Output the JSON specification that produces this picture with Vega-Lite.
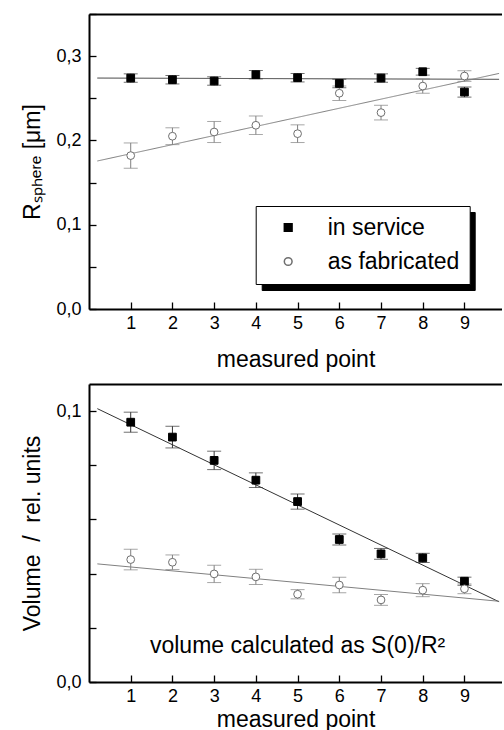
{
  "$schema": "https://vega.github.io/schema/vega-lite/v6.json",
  "background": "white",
  "padding": {"left": 21, "top": 13, "right": 0, "bottom": 0},
  "spacing": 13,
  "resolve": {"scale": {"fill": "independent", "stroke": "independent", "shape": "independent", "color": "independent", "strokeDash": "independent"},
              "legend": {"fill": "independent", "stroke": "independent", "shape": "independent", "color": "independent", "strokeDash": "independent"}},
  "config": {
    "font": "Liberation Sans",
    "view": {"stroke": null},
    "axis": {
      "grid": false, "domainColor": "black", "domainWidth": 2, "tickColor": "black", "tickWidth": 1.3, "tickSize": -7,
      "labelColor": "black", "titleColor": "black", "labelFont": "Liberation Sans", "titleFont": "Liberation Sans",
      "labelFontSize": 18, "titleFontSize": 23, "titleFontWeight": "normal"
    }
  },
  "datasets": {
    "r": [
      {"x": 1, "y": 0.274, "err": 0.005, "series": "in service"},
      {"x": 2, "y": 0.272, "err": 0.005, "series": "in service"},
      {"x": 3, "y": 0.2705, "err": 0.005, "series": "in service"},
      {"x": 4, "y": 0.278, "err": 0.005, "series": "in service"},
      {"x": 5, "y": 0.2744, "err": 0.005, "series": "in service"},
      {"x": 6, "y": 0.2676, "err": 0.005, "series": "in service"},
      {"x": 7, "y": 0.274, "err": 0.005, "series": "in service"},
      {"x": 8, "y": 0.2815, "err": 0.004, "series": "in service"},
      {"x": 9, "y": 0.2574, "err": 0.006, "series": "in service"},
      {"x": 1, "y": 0.182, "err": 0.015, "series": "as fabricated"},
      {"x": 2, "y": 0.205, "err": 0.01, "series": "as fabricated"},
      {"x": 3, "y": 0.21, "err": 0.0125, "series": "as fabricated"},
      {"x": 4, "y": 0.218, "err": 0.011, "series": "as fabricated"},
      {"x": 5, "y": 0.208, "err": 0.0105, "series": "as fabricated"},
      {"x": 6, "y": 0.256, "err": 0.0085, "series": "as fabricated"},
      {"x": 7, "y": 0.233, "err": 0.0087, "series": "as fabricated"},
      {"x": 8, "y": 0.2645, "err": 0.0085, "series": "as fabricated"},
      {"x": 9, "y": 0.2764, "err": 0.0063, "series": "as fabricated"}
    ],
    "rfit": [
      {"x": 0.2, "y": 0.274, "fit": "in service"},
      {"x": 9.83, "y": 0.2725, "fit": "in service"},
      {"x": 0.2, "y": 0.1756, "fit": "as fabricated"},
      {"x": 9.83, "y": 0.2795, "fit": "as fabricated"}
    ],
    "v": [
      {"x": 1, "y": 0.0959, "err": 0.0037, "series": "in service"},
      {"x": 2, "y": 0.0904, "err": 0.004, "series": "in service"},
      {"x": 3, "y": 0.0818, "err": 0.0034, "series": "in service"},
      {"x": 4, "y": 0.0745, "err": 0.0027, "series": "in service"},
      {"x": 5, "y": 0.0666, "err": 0.0028, "series": "in service"},
      {"x": 6, "y": 0.0526, "err": 0.002, "series": "in service"},
      {"x": 7, "y": 0.0473, "err": 0.002, "series": "in service"},
      {"x": 8, "y": 0.0458, "err": 0.0017, "series": "in service"},
      {"x": 9, "y": 0.0372, "err": 0.0015, "series": "in service"},
      {"x": 1, "y": 0.0452, "err": 0.0038, "series": "as fabricated"},
      {"x": 2, "y": 0.0442, "err": 0.0027, "series": "as fabricated"},
      {"x": 3, "y": 0.0399, "err": 0.0032, "series": "as fabricated"},
      {"x": 4, "y": 0.0388, "err": 0.0028, "series": "as fabricated"},
      {"x": 5, "y": 0.0324, "err": 0.0017, "series": "as fabricated"},
      {"x": 6, "y": 0.0358, "err": 0.0029, "series": "as fabricated"},
      {"x": 7, "y": 0.0303, "err": 0.002, "series": "as fabricated"},
      {"x": 8, "y": 0.0339, "err": 0.0024, "series": "as fabricated"},
      {"x": 9, "y": 0.0344, "err": 0.0018, "series": "as fabricated"}
    ],
    "vfit": [
      {"x": 0.2, "y": 0.1009, "series": "in service"},
      {"x": 9.83, "y": 0.0296, "series": "in service"},
      {"x": 0.2, "y": 0.0436, "series": "as fabricated"},
      {"x": 9.83, "y": 0.0298, "series": "as fabricated"}
    ]
  },
  "vconcat": [
    {
      "width": 413,
      "height": 295,
      "resolve": {"axis": {"x": "independent"}},
      "layer": [
        {
          "data": {"name": "rfit"},
          "mark": {"type": "line", "strokeWidth": 1},
          "encoding": {
            "x": {"field": "x", "type": "quantitative", "scale": {"domain": [0, 9.9], "nice": false, "zero": false},
                  "axis": {"orient": "top", "ticks": false, "labels": false, "title": null}},
            "y": {"field": "y", "type": "quantitative", "scale": {"domain": [0, 0.35], "nice": false},
                  "axis": {"title": "Rₛₚₕₑᵣₑ [μm]", "values": [0, 0.025, 0.05, 0.075, 0.1, 0.125, 0.15, 0.175, 0.2, 0.225, 0.25, 0.275, 0.3, 0.325, 0.35],
                           "labelExpr": "abs(datum.value*10 - round(datum.value*10)) < 0.000001 ? replace(format(datum.value, '.1f'), '.', ',') : ''",
                           "labelPadding": 15, "titlePadding": 11}},
            "color": {"field": "fit", "type": "nominal", "scale": {"range": ["#808080", "#333333"]}, "legend": null},
            "strokeDash": {"field": "fit", "type": "nominal", "scale": {"range": [[1, 0], [1, 0]]},
                           "legend": {"orient": "none", "legendX": 172.7, "legendY": 198, "title": null, "fillColor": "black", "strokeColor": "black",
                                      "padding": 10, "rowPadding": 10, "labelFontSize": 23, "labelFont": "Liberation Sans", "labelColor": "black",
                                      "labelExpr": "'\u00a0'", "labelLimit": 400,
                                      "symbolType": "square", "symbolSize": 60, "symbolOffset": 11, "labelOffset": 158.7,
                                      "symbolFillColor": "black", "symbolStrokeColor": "black", "zindex": 1}}
          }
        },
        {
          "data": {"name": "r"},
          "mark": {"type": "errorbar", "ticks": {"size": 14}, "thickness": 1},
          "encoding": {
            "x": {"field": "x", "type": "quantitative", "axis": null},
            "y": {"field": "y", "type": "quantitative", "title": "Rₛₚₕₑᵣₑ [μm]"},
            "yError": {"field": "err"},
            "color": {"field": "series", "type": "nominal", "legend": null}
          }
        },
        {
          "data": {"name": "r"},
          "mark": {"type": "point", "filled": true, "size": 60, "opacity": 1, "strokeWidth": 1},
          "encoding": {
            "x": {"field": "x", "type": "quantitative",
                  "axis": {"orient": "bottom", "values": [1, 2, 3, 4, 5, 6, 7, 8, 9], "format": "d", "title": "measured point", "labelPadding": 12, "titlePadding": 16}},
            "y": {"field": "y", "type": "quantitative", "title": "Rₛₚₕₑᵣₑ [μm]"},
            "fill": {"field": "series", "type": "nominal", "scale": {"domain": ["in service", "as fabricated"], "range": ["black", "white"]},
                     "legend": {"orient": "none", "legendX": 166.7, "legendY": 192, "title": null, "fillColor": "white", "strokeColor": "black",
                                "padding": 10, "rowPadding": 10, "labelFontSize": 23, "labelFont": "Liberation Sans", "labelColor": "black",
                                "labelLimit": 400,
                                "symbolSize": 60, "symbolOffset": 11, "labelOffset": 28, "zindex": 2}},
            "stroke": {"field": "series", "type": "nominal", "scale": {"domain": ["in service", "as fabricated"], "range": ["black", "#6e6e6e"]}},
            "shape": {"field": "series", "type": "nominal", "scale": {"domain": ["in service", "as fabricated"], "range": ["square", "circle"]}}
          }
        }
      ]
    },
    {
      "width": 413,
      "height": 298,
      "resolve": {"axis": {"x": "independent"}},
      "layer": [
        {
          "data": {"name": "vfit"},
          "mark": {"type": "line", "strokeWidth": 1},
          "encoding": {
            "x": {"field": "x", "type": "quantitative", "scale": {"domain": [0, 9.9], "nice": false, "zero": false},
                  "axis": {"orient": "top", "ticks": false, "labels": false, "title": null}},
            "y": {"field": "y", "type": "quantitative", "scale": {"domain": [0, 0.11], "nice": false},
                  "axis": {"title": "Volume\u00a0 / \u00a0rel. units",
                           "values": [0, 0.005, 0.01, 0.015, 0.02, 0.025, 0.03, 0.035, 0.04, 0.045, 0.05, 0.055, 0.06, 0.065, 0.07, 0.075, 0.08, 0.085, 0.09, 0.095, 0.1, 0.105, 0.11],
                           "labelExpr": "abs(datum.value*10 - round(datum.value*10)) < 0.000001 ? replace(format(datum.value, '.1f'), '.', ',') : ''",
                           "labelPadding": 15, "titlePadding": 11}},
            "color": {"field": "series", "type": "nominal", "scale": {"range": ["#808080", "#333333"]}, "legend": null}
          }
        },
        {
          "data": {"name": "v"},
          "mark": {"type": "errorbar", "ticks": {"size": 14}, "thickness": 1},
          "encoding": {
            "x": {"field": "x", "type": "quantitative", "axis": null},
            "y": {"field": "y", "type": "quantitative", "title": "Volume\u00a0 / \u00a0rel. units"},
            "yError": {"field": "err"},
            "color": {"field": "series", "type": "nominal", "legend": null}
          }
        },
        {
          "data": {"name": "v"},
          "mark": {"type": "point", "filled": true, "size": 60, "opacity": 1, "strokeWidth": 1},
          "encoding": {
            "x": {"field": "x", "type": "quantitative",
                  "axis": {"orient": "bottom", "values": [1, 2, 3, 4, 5, 6, 7, 8, 9], "format": "d", "title": "measured point", "labelPadding": 12, "titlePadding": 3}},
            "y": {"field": "y", "type": "quantitative", "title": "Volume\u00a0 / \u00a0rel. units"},
            "fill": {"field": "series", "type": "nominal", "scale": {"domain": ["in service", "as fabricated"], "range": ["black", "white"]}, "legend": null},
            "stroke": {"field": "series", "type": "nominal", "scale": {"domain": ["in service", "as fabricated"], "range": ["black", "#6e6e6e"]}, "legend": null},
            "shape": {"field": "series", "type": "nominal", "scale": {"domain": ["in service", "as fabricated"], "range": ["square", "circle"]}, "legend": null}
          }
        },
        {
          "data": {"name": "v"},
          "transform": [{"filter": "datum.x == 1 && datum.series == 'in service'"}],
          "mark": {"type": "text", "fontSize": 23, "font": "Liberation Sans", "align": "center", "baseline": "alphabetic", "color": "black"},
          "encoding": {
            "x": {"datum": 5, "type": "quantitative", "axis": null},
            "y": {"datum": 0.0107, "type": "quantitative", "title": "Volume\u00a0 / \u00a0rel. units"},
            "text": {"value": "volume calculated as S(0)/R²"}
          }
        }
      ]
    }
  ]
}
